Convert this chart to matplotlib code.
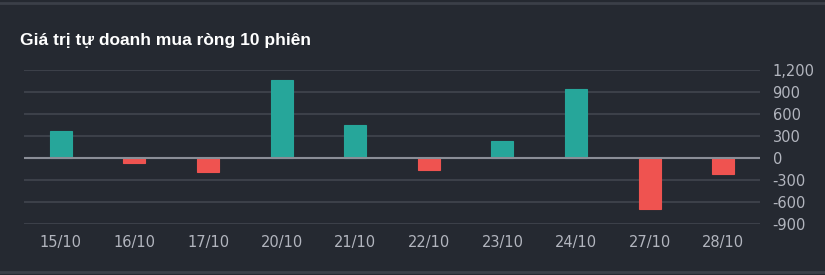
import matplotlib
matplotlib.use("Agg")
import matplotlib.pyplot as plt
from matplotlib.lines import Line2D
from matplotlib.ticker import FuncFormatter

# data
dates = ["15/10", "16/10", "17/10", "20/10", "21/10", "22/10", "23/10", "24/10", "27/10", "28/10"]
values = [367, -77, -197, 1060, 450, -173, 225, 936, -697, -215]
yticks = [-900, -600, -300, 0, 300, 600, 900, 1200]

bg = "#252931"
green = "#26a69a"
red = "#ef5350"
txt = "#b2b5be"

fig = plt.figure(figsize=(8.25, 2.75), dpi=100, facecolor=bg)
ax = fig.add_axes([24 / 825, 1 - 223.7 / 275, 736 / 825, (223.7 - 70) / 275])
ax.set_facecolor(bg)

colors = [green if v >= 0 else red for v in values]
x = list(range(len(dates)))
ax.bar(x, values, width=0.3, color=colors, edgecolor=colors, linewidth=0.8, zorder=3)

ax.set_xlim(-0.5, len(dates) - 0.5)
ax.set_ylim(-900, 1200)
ax.set_yticks(yticks)
ax.yaxis.set_major_formatter(FuncFormatter(lambda v, p: f"{int(v):,}"))
ax.yaxis.tick_right()
ax.set_xticks(x)
ax.set_xticklabels(dates)

ax.grid(axis="y", color="#3c4049", linewidth=1.5, zorder=0)
ax.axhline(0, color="#8b8e97", linewidth=1.5, zorder=4)
for s in ax.spines.values():
    s.set_visible(False)
ax.tick_params(axis="both", length=0, colors=txt, labelsize=10.5)
ax.tick_params(axis="y", pad=9)
ax.tick_params(axis="x", pad=8)

fig.text(20 / 825, 1 - 40 / 275, "Giá trị tự doanh mua ròng 10 phiên", color="white",
         fontsize=12.5, fontweight="bold", family="Liberation Sans", va="center", ha="left")

# panel border lines
fig.add_artist(Line2D([0, 1], [1 - 3 / 275, 1 - 3 / 275], transform=fig.transFigure, color="#3b3f48", linewidth=2))
fig.add_artist(Line2D([0, 1], [1 - 272 / 275, 1 - 272 / 275], transform=fig.transFigure, color="#3b3f48", linewidth=2))

fig.savefig("out.png", dpi=100, facecolor=bg)
